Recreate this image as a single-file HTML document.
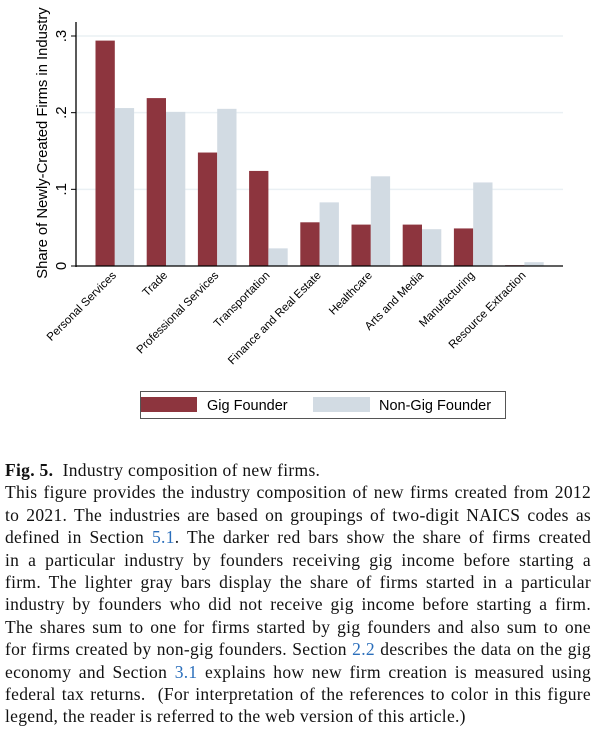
<!DOCTYPE html>
<html><head><meta charset="utf-8"><style>
body{margin:0;background:#fff;width:594px;height:729px;overflow:hidden;position:relative}
svg text{font-family:"Liberation Sans",sans-serif}
#cap{position:absolute;left:5px;top:459px;width:586px;font-family:"Liberation Serif",serif;font-size:17.5px;letter-spacing:0.3px;line-height:22.4px;color:#111}
#cap div{text-align:justify;text-align-last:justify;white-space:nowrap}
#cap div.l{text-align-last:left}
#cap a{color:#2a6ebb;text-decoration:none}
</style></head><body>
<svg id="chart" width="594" height="440" style="position:absolute;left:0;top:0"></svg>
<div id="cap">
<div class="l"><b>Fig. 5.</b>&nbsp; Industry composition of new firms.</div>
<div>This figure provides the industry composition of new firms created from 2012</div>
<div>to 2021. The industries are based on groupings of two-digit NAICS codes as</div>
<div>defined in Section <a>5.1</a>. The darker red bars show the share of firms created</div>
<div>in a particular industry by founders receiving gig income before starting a</div>
<div>firm. The lighter gray bars display the share of firms started in a particular</div>
<div>industry by founders who did not receive gig income before starting a firm.</div>
<div>The shares sum to one for firms started by gig founders and also sum to one</div>
<div>for firms created by non-gig founders. Section <a>2.2</a> describes the data on the gig</div>
<div>economy and Section <a>3.1</a> explains how new firm creation is measured using</div>
<div>federal tax returns.&nbsp; (For interpretation of the references to color in this figure</div>
<div class="l">legend, the reader is referred to the web version of this article.)</div>
</div>
<script>
const categories=["Personal Services","Trade","Professional Services","Transportation","Finance and Real Estate","Healthcare","Arts and Media","Manufacturing","Resource Extraction"];
const gigValues=[0.294,0.219,0.148,0.124,0.057,0.054,0.054,0.049,0.001];
const nonGigValues=[0.206,0.201,0.205,0.023,0.083,0.117,0.048,0.109,0.005];
const yTicks=[0,0.1,0.2,0.3];
const yTickLabels=["0",".1",".2",".3"];
const NS="http://www.w3.org/2000/svg";
const svg=document.getElementById('chart');
const x0=76,x1=563,y0=266,yTop=36,ymax=0.3;
const yS=v=>y0-(v/ymax)*(y0-yTop);
const step=51.2,firstX=95.5,bw=19.3;
const xS=i=>firstX+i*step;
function mk(t,a){const e=document.createElementNS(NS,t);for(const k in a)e.setAttribute(k,a[k]);svg.appendChild(e);return e;}
yTicks.forEach((t,i)=>{
 if(t>0){const g=mk('line',{x1:x0,x2:x1,y1:yS(t),y2:yS(t),stroke:'#eaf0f4','stroke-width':1.5});
 }
 const tk=mk('line',{x1:x0-5,x2:x0,y1:yS(t),y2:yS(t),stroke:'#000','stroke-width':1});
 
 const y=yS(t);
 const tl=mk('text',{x:66,y:y,'font-size':15,'text-anchor':'middle',transform:`rotate(-90 66 ${y})`});
 tl.textContent=yTickLabels[i];
 
});
categories.forEach((c,i)=>{
 const x=xS(i);
 const r=mk('rect',{x:x,y:yS(gigValues[i]),width:bw,height:y0-yS(gigValues[i]),fill:'#8d353e'});
 
 const g=mk('rect',{x:x+bw,y:yS(nonGigValues[i]),width:bw,height:y0-yS(nonGigValues[i]),fill:'#d2dbe3'});
 
 const lx=x+bw+2,ly=y0+10;
 const t=mk('text',{x:lx,y:ly,'font-size':11.5,'text-anchor':'end',transform:`rotate(-45 ${lx} ${ly})`});
 t.textContent=c;
 
});
const ya=mk('line',{x1:x0,x2:x0,y1:22,y2:y0+1,stroke:'#000','stroke-width':1.3});

const xa=mk('line',{x1:x0,x2:x1,y1:y0,y2:y0,stroke:'#000','stroke-width':1.3});

const yt=mk('text',{x:47,y:143,'font-size':14.8,'text-anchor':'middle',transform:'rotate(-90 47 143)'});
yt.textContent='Share of Newly-Created Firms in Industry';

const lb=mk('rect',{x:140.5,y:391.5,width:365,height:27,fill:'#fff',stroke:'#555','stroke-width':1});

const s1=mk('rect',{x:141,y:397,width:56,height:15,fill:'#8d353e'});

const t1=mk('text',{x:207,y:410,'font-size':14.5});t1.textContent='Gig Founder';

const s2=mk('rect',{x:313,y:397,width:57,height:15,fill:'#d2dbe3'});

const t2=mk('text',{x:379,y:410,'font-size':14.5});t2.textContent='Non-Gig Founder';

</script>
</body></html>
